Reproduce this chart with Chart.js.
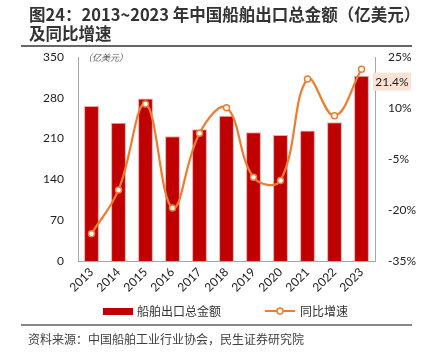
<!DOCTYPE html>
<html>
<head>
<meta charset="utf-8">
<script src="https://cdn.jsdelivr.net/npm/chart.js@4"></script>
<style>
  body { margin: 0; background: #fff; }
  #wrap { position: relative; width: 433px; height: 358px; overflow: hidden; font-family: "Noto Sans CJK SC", sans-serif; }
  #chart { position: absolute; left: 0; top: 0; }
  .title { position: absolute; left: 29px; top: 5px; font-size: 16.5px; font-weight: bold; color: #333; line-height: 19px; letter-spacing: 0; }
  .rule { position: absolute; left: 21px; width: 391px; background: #666; }
  .unit { position: absolute; left: 83px; top: 51px; font-size: 9px; color: #555; font-style: italic; }
  .source { position: absolute; left: 28px; top: 330px; font-size: 12px; color: #404040; }
</style>
</head>
<body>
<div id="wrap">
  <canvas id="chart" width="433" height="358"></canvas>
  <div class="title">图24：2013~2023 年中国船舶出口总金额（亿美元）<br>及同比增速</div>
  <div class="rule" style="top:45px;height:2px;"></div>
  <div class="rule" style="top:324px;height:1.5px;background:#888;"></div>
  <div class="unit">（亿美元）</div>
  <div class="source">资料来源：中国船舶工业行业协会，民生证券研究院</div>
</div>
<script>
// data
const years = ['2013', '2014', '2015', '2016', '2017', '2018', '2019', '2020', '2021', '2022', '2023'];
const exportValue = [266, 237, 279, 214, 226, 249, 221, 216, 224, 238, 318];
const yoyGrowth = [-27.0, -14.1, 11.2, -19.4, 2.6, 10.1, -10.4, -11.3, 18.5, 7.7, 21.4];
const leftTicks = [0, 70, 140, 210, 280, 350];
const rightTicks = [-35, -20, -5, 10, 25];

const red = '#C00000';
const orange = '#ED7D31';
const axisGrey = '#A6A6A6';

const extras = {
  id: 'extras',
  afterDatasetsDraw: (chart) => {
    const ctx = chart.ctx;
    // last value callout
    const meta = chart.getDatasetMeta(1);
    const last = meta.data[meta.data.length - 1];
    const y = last.y + 6;
    ctx.save();
    ctx.fillStyle = '#FBE2D5';
    ctx.fillRect(373, y - 9, 38, 18);
    ctx.fillStyle = '#222';
    ctx.font = '12px Lato, sans-serif';
    ctx.textAlign = 'center';
    ctx.textBaseline = 'middle';
    ctx.fillText(yoyGrowth[yoyGrowth.length - 1].toFixed(1) + '%', 392, y);

    // legend
    const ly = 311;
    ctx.fillStyle = red;
    ctx.fillRect(103, ly - 3, 30, 7);
    ctx.fillStyle = '#333';
    ctx.textAlign = 'left';
    ctx.font = '12px "Noto Sans CJK SC", sans-serif';
    ctx.fillText('船舶出口总金额', 137, ly);
    ctx.strokeStyle = orange;
    ctx.lineWidth = 2;
    ctx.beginPath();
    ctx.moveTo(265, ly);
    ctx.lineTo(295, ly);
    ctx.stroke();
    ctx.beginPath();
    ctx.arc(280, ly, 3, 0, Math.PI * 2);
    ctx.fillStyle = '#fff';
    ctx.fill();
    ctx.lineWidth = 1.5;
    ctx.stroke();
    ctx.fillStyle = '#333';
    ctx.fillText('同比增速', 300, ly);
    ctx.restore();
  }
};

new Chart(document.getElementById('chart').getContext('2d'), {
  data: {
    labels: years,
    datasets: [
      {
        type: 'line',
        data: yoyGrowth,
        yAxisID: 'y1',
        borderColor: orange,
        borderWidth: 2.25,
        tension: 0.4,
        pointRadius: 3,
        pointBackgroundColor: '#fff',
        pointBorderColor: orange,
        pointBorderWidth: 1.5,
        order: 0
      },
      {
        type: 'bar',
        data: exportValue,
        yAxisID: 'y',
        backgroundColor: red,
        borderColor: '#E8A8A8',
        borderWidth: 1,
        barPercentage: 0.55,
        categoryPercentage: 1,
        order: 1
      }
    ]
  },
  options: {
    responsive: false,
    animation: false,
    layout: { padding: { top: 57, left: 0, right: 0, bottom: 0 } },
    plugins: { legend: { display: false }, tooltip: { enabled: false } },
    scales: {
      x: {
        grid: { display: false, drawTicks: false },
        border: { color: axisGrey },
        ticks: { color: '#222', font: { family: 'Lato', size: 12 }, minRotation: 45, maxRotation: 45, padding: 4 },
        afterFit: (s) => { s.height = 97; }
      },
      y: {
        position: 'left',
        min: 0,
        max: 350,
        afterBuildTicks: (s) => { s.ticks = leftTicks.map(v => ({ value: v })); },
        grid: { display: false, drawTicks: false },
        border: { color: axisGrey },
        ticks: { color: '#222', font: { family: 'Lato', size: 12 }, padding: 14 },
        afterFit: (s) => { s.width = 78; }
      },
      y1: {
        position: 'right',
        min: -35,
        max: 25,
        afterBuildTicks: (s) => { s.ticks = rightTicks.map(v => ({ value: v })); },
        grid: { display: false, drawTicks: false },
        border: { color: axisGrey },
        ticks: { color: '#222', font: { family: 'Lato', size: 12 }, padding: 13, callback: (v) => v + '%' },
        afterFit: (s) => { s.width = 58; }
      }
    }
  },
  plugins: [extras]
});
</script>
</body>
</html>
